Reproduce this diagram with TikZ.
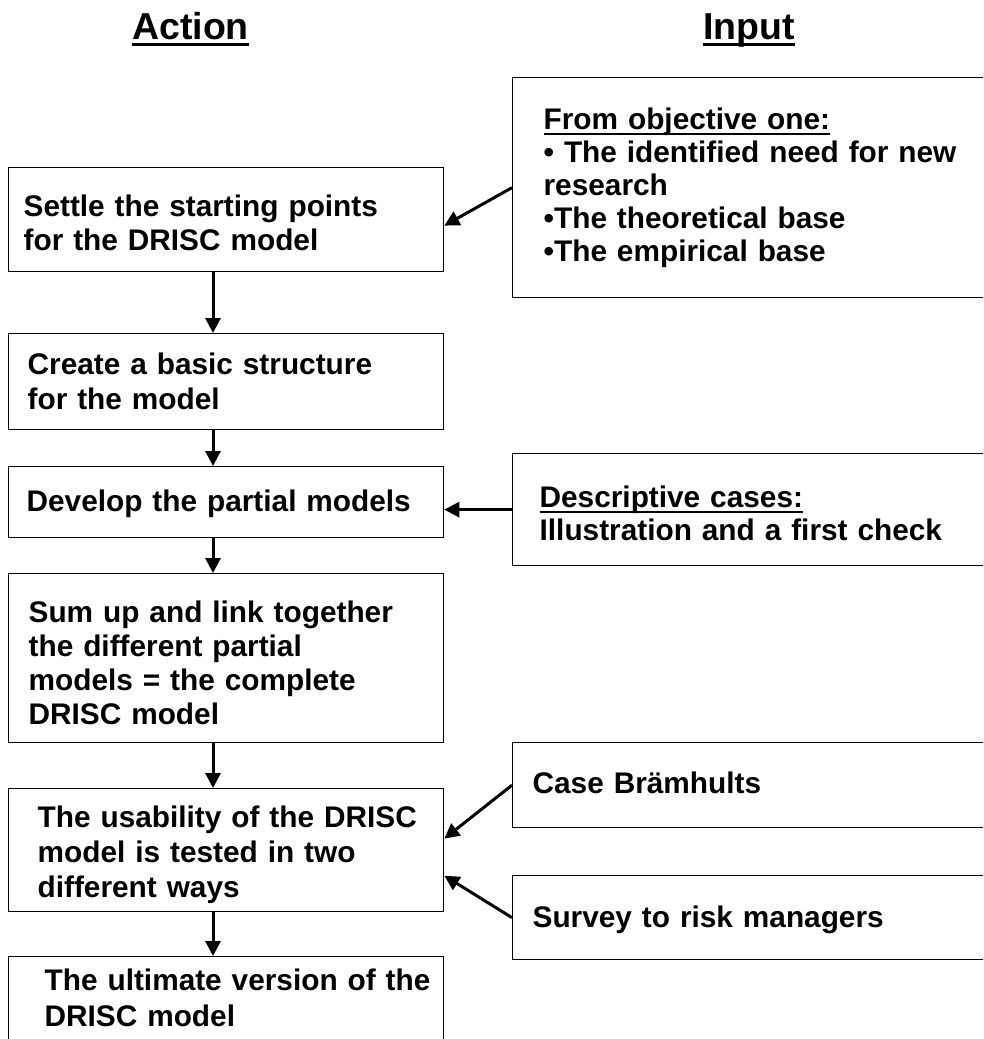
\documentclass[tikz,border=0pt]{standalone}
\usepackage{fontspec}
\setmainfont{Liberation Sans}
\usetikzlibrary{arrows.meta,calc}
\newcommand\myul[3]{\setbox0\hbox{#1}\rlap{\rule[-#2]{\wd0}{#3}}\box0}
\begin{document}
\begin{tikzpicture}[x=1pt,y=-1pt,
  bs/.style={font=\fontsize{29.8}{#1}\selectfont\bfseries},
  box/.style={draw,line width=1.3pt,anchor=north west,inner xsep=0pt,inner ysep=0pt,align=left,text width=435pt,bs=34},
  inbox/.style={box,text width=520pt},
  arr/.style={line width=3pt,-{Triangle[length=15pt,width=15pt]}},
  hdr/.style={anchor=base west,inner sep=0pt,font=\fontsize{37.5}{40}\selectfont\bfseries}]
\useasboundingbox (0,0) rectangle (983,1039);
\clip (0,0) rectangle (983,1039);
\node[hdr] (hact) at (132,39) {\myul{Action}{7.4pt}{3.4pt}};
\node[hdr] (hin) at (703,39) {\myul{Input}{7.4pt}{3.4pt}};
% action boxes
\node[box,text height=49pt,text depth=55pt] (b1) at (8,167)
  {\leftskip=15pt Settle the starting points\\for the DRISC model\par};
\node[box,bs=35,text height=41pt,text depth=55pt] (b2) at (8,333)
  {\leftskip=19pt Create a basic structure\\for the model\par};
\node[box,text height=45pt,text depth=26pt] (b3) at (8,466)
  {\leftskip=18pt Develop the partial models\par};
\node[box,text height=49pt,text depth=120pt] (b4) at (8,573)
  {\leftskip=20pt Sum up and link together\\the different partial\\models = the complete\\DRISC model\par};
\node[box,bs=35,text height=39pt,text depth=84pt] (b5) at (8,788)
  {\leftskip=29pt The usability of the DRISC\\model is tested in two\\different ways\par};
\node[box,bs=36,text height=34pt,text depth=70pt] (b6) at (8,956)
  {\leftskip=36pt The ultimate version of the\\DRISC model\par};
% input boxes
\node[inbox,bs=33,text height=52pt,text depth=168pt] (in1) at (512,77)
  {\leftskip=31pt \myul{From objective one:}{5pt}{2pt}\\\textbullet\ The identified need for new\\research\\\textbullet The theoretical base\\\textbullet The empirical base\par};
\node[inbox,bs=33,text height=54pt,text depth=58pt] (in2) at (512,453)
  {\leftskip=27pt \myul{Descriptive cases:}{5pt}{2pt}\\Illustration and a first check\par};
\node[inbox,text height=51pt,text depth=34pt] (in3) at (512,742)
  {\leftskip=20pt Case Brämhults\par};
\node[inbox,text height=52pt,text depth=32pt] (in4) at (512,875)
  {\leftskip=20pt Survey to risk managers\par};
% connectors
\coordinate (ax) at (213,0);
\draw[arr] (b1.south -| ax) -- (b2.north -| ax);
\draw[arr] (b2.south -| ax) -- (b3.north -| ax);
\draw[arr] (b3.south -| ax) -- (b4.north -| ax);
\draw[arr] (b4.south -| ax) -- (b5.north -| ax);
\draw[arr] (b5.south -| ax) -- (b6.north -| ax);
\draw[arr] (in1.west) -- ($(b1.east)+(0,6)$);
\draw[arr] (in2.west) -- (b3.east |- in2.west);
\draw[arr] (in3.west) -- ($(b5.east)+(0,-11.5)$);
\draw[arr] (in4.west) -- ($(b5.east)+(0,25.5)$);
\end{tikzpicture}
\end{document}
